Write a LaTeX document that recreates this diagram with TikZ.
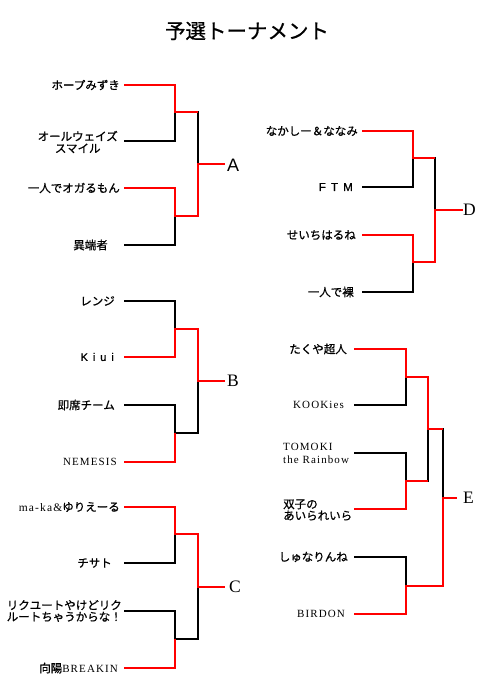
\documentclass[tikz,border=0pt]{standalone}
\usepackage{fontspec}
\setmainfont{Liberation Serif}
\newfontfamily\jp[FakeBold=0.8]{Noto Sans CJK JP}
\newfontfamily\lsans{Liberation Sans}
\newfontfamily\serifsp[LetterSpace=10]{Liberation Serif}
\newfontfamily\wsans[LetterSpace=45,FakeBold=0.8]{Liberation Sans}
\begin{document}
\begin{tikzpicture}[x=1pt,y=-1pt,
  team/.style={inner sep=0pt, font=\jp\fontsize{11.5}{12}\selectfont, anchor=east},
  teaml/.style={inner sep=0pt, font=\jp\fontsize{11.5}{11.5}\selectfont, anchor=west, align=left},
  wire/.style={line width=1.3pt, black},
  win/.style={line width=1.5pt, red},
  grp/.style={inner sep=0pt, anchor=west, font=\fontsize{17.5}{18}\selectfont}]
\useasboundingbox (0,0) rectangle (492,694);
\node[inner sep=0pt, font=\jp\fontsize{20.5}{21}\selectfont] (title) at (247,31) {予選トーナメント};

% ---------------- A
\node[team] (tA1) at (120,85) {ホープみずき};
\node[team, align=center, font=\jp\fontsize{11.5}{12}\selectfont] (tA2) at (118,142) {オールウェイズ\\スマイル};
\node[team] (tA3) at (120,188) {一人でオガるもん};
\node[team] (tA4) at (108,245) {異端者};
\coordinate (A1) at (124,85); \coordinate (A2) at (124,141);
\coordinate (A3) at (124,188); \coordinate (A4) at (124,245);
\coordinate (A12) at (175,112); \coordinate (A34) at (175,216);
\coordinate (Af) at (198,164); \coordinate (Aend) at (225,164);
\draw[wire] (A1) -| (A12) |- (A2);
\draw[wire] (A3) -| (A34) |- (A4);
\draw[wire] (A12) -| (Af); \draw[wire] (A34) -| (Af); \draw[wire] (Af) -- (Aend);
\draw[win] (A1) -| (A12) -- (A12 -| Af);
\draw[win] (A3) -| (A34) -| (Af) -- (Aend);
\node[grp, font=\lsans\fontsize{18}{18}\selectfont] (gA) at (227,165) {A};

% ---------------- B
\node[team] (tB1) at (115,301) {レンジ};
\node[team, font=\wsans\fontsize{11}{12}\selectfont] (tB2) at (114,357) {Kiui};
\node[team] (tB3) at (115,405) {即席チーム};
\node[team, font=\serifsp\fontsize{11}{12}\selectfont] (tB4) at (117,462) {NEMESIS};
\coordinate (B1) at (124,301); \coordinate (B2) at (124,357);
\coordinate (B3) at (124,405); \coordinate (B4) at (124,462);
\coordinate (B12) at (175,329); \coordinate (B34) at (175,433);
\coordinate (Bf) at (198,381); \coordinate (Bend) at (225,381);
\draw[wire] (B1) -| (B12) |- (B2);
\draw[wire] (B3) -| (B34) |- (B4);
\draw[wire] (B12) -| (Bf); \draw[wire] (B34) -| (Bf); \draw[wire] (Bf) -- (Bend);
\draw[win] (B2) -| (B12) -| (Bf) -- (Bend);
\draw[win] (B4) -| (B34);
\node[grp] (gB) at (227,381) {B};

% ---------------- C
\node[team] (tC1) at (120,507) {{\serifsp ma-ka\&}ゆりえーる};
\node[team] (tC2) at (112,563) {チサト};
\node[team, align=center, font=\jp\fontsize{11.5}{11.5}\selectfont] (tC3) at (122,611) {リクユートやけどリク\\ルートちゃうからな！};
\node[team] (tC4) at (118,668) {向陽{\serifsp\fontsize{11}{12}\selectfont BREAKIN}};
\coordinate (C1) at (124,507); \coordinate (C2) at (124,563);
\coordinate (C3) at (124,611); \coordinate (C4) at (124,668);
\coordinate (C12) at (175,534); \coordinate (C34) at (175,639);
\coordinate (Cf) at (198,587); \coordinate (Cend) at (225,587);
\draw[wire] (C1) -| (C12) |- (C2);
\draw[wire] (C3) -| (C34) |- (C4);
\draw[wire] (C12) -| (Cf); \draw[wire] (C34) -| (Cf); \draw[wire] (Cf) -- (Cend);
\draw[win] (C1) -| (C12) -| (Cf) -- (Cend);
\draw[win] (C4) -| (C34);
\node[grp] (gC) at (229,587) {C};

% ---------------- D
\node[team] (tD1) at (358,131) {なかしー＆ななみ};
\node[team, font=\wsans\fontsize{11.5}{12}\selectfont] (tD2) at (353,187) {FTM};
\node[team] (tD3) at (356,235) {せいちはるね};
\node[team] (tD4) at (354,292) {一人で裸};
\coordinate (D1) at (362,131); \coordinate (D2) at (362,187);
\coordinate (D3) at (362,235); \coordinate (D4) at (362,292);
\coordinate (D12) at (413,158); \coordinate (D34) at (413,262);
\coordinate (Df) at (435,210); \coordinate (Dend) at (463,210);
\draw[wire] (D1) -| (D12) |- (D2);
\draw[wire] (D3) -| (D34) |- (D4);
\draw[wire] (D12) -| (Df); \draw[wire] (D34) -| (Df); \draw[wire] (Df) -- (Dend);
\draw[win] (D1) -| (D12) -- (D12 -| Df);
\draw[win] (D3) -| (D34) -| (Df) -- (Dend);
\node[grp] (gD) at (463,210) {D};

% ---------------- E
\node[team] (tE1) at (347,349) {たくや超人};
\node[team, font=\serifsp\fontsize{11}{12}\selectfont] (tE2) at (344,405) {KOOKies};
\node[teaml, font=\serifsp\fontsize{11}{13}\selectfont] (tE3) at (283,453) {TOMOKI\\the Rainbow};
\node[teaml] (tE4) at (283,510) {双子の\\あいられいら};
\node[team] (tE5) at (348,557) {しゅなりんね};
\node[team, font=\serifsp\fontsize{11}{12}\selectfont] (tE6) at (345,614) {BIRDON};
\coordinate (E1) at (354,349); \coordinate (E2) at (354,405);
\coordinate (E3) at (354,453); \coordinate (E4) at (354,509);
\coordinate (E5) at (354,557); \coordinate (E6) at (354,614);
\coordinate (E12) at (406,377); \coordinate (E34) at (406,481);
\coordinate (E56) at (406,586); \coordinate (E14) at (428,429);
\coordinate (Ef) at (443,498); \coordinate (Eend) at (457,498);
\draw[wire] (E1) -| (E12) |- (E2);
\draw[wire] (E3) -| (E34) |- (E4);
\draw[wire] (E5) -| (E56) |- (E6);
\draw[wire] (E12) -| (E14); \draw[wire] (E34) -| (E14);
\draw[wire] (E14) -| (Ef); \draw[wire] (E56) -| (Ef); \draw[wire] (Ef) -- (Eend);
\draw[win] (E1) -| (E12) -| (E14) -- (E14 -| Ef);
\draw[win] (E4) -| (E34) -- (E34 -| E14);
\draw[win] (E6) -| (E56) -| (Ef) -- (Eend);
\node[grp] (gE) at (463,498) {E};
\end{tikzpicture}
\end{document}
